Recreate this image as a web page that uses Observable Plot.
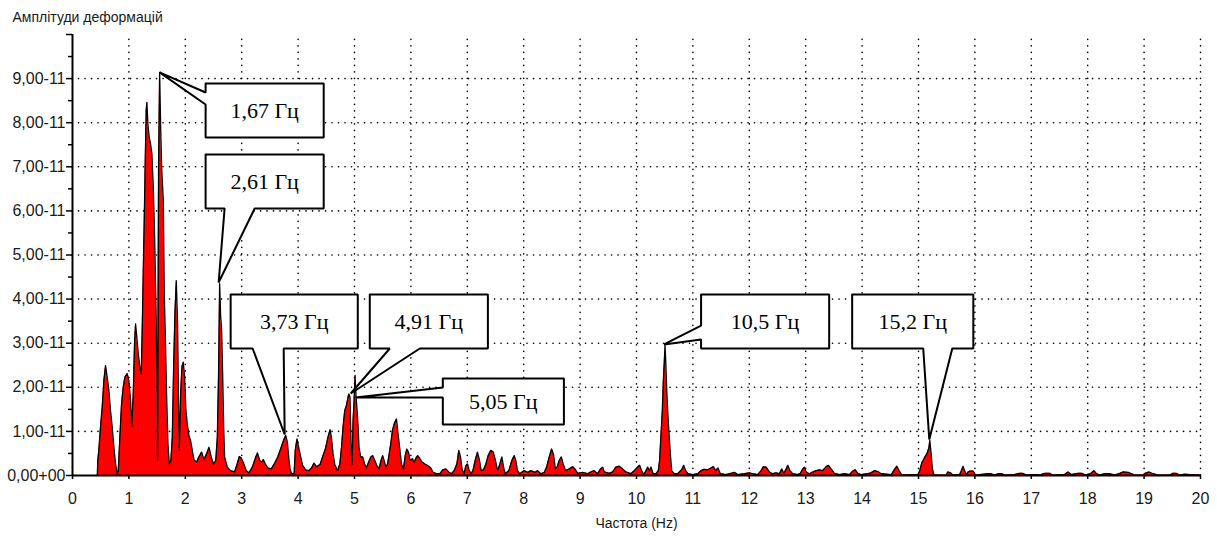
<!DOCTYPE html>
<html><head><meta charset="utf-8">
<script src="https://cdn.jsdelivr.net/npm/d3@7"></script>
<script src="https://cdn.jsdelivr.net/npm/@observablehq/plot@0.6"></script>
<style>
html,body{margin:0;padding:0;background:#fff}
#chart{width:1217px;height:539px;overflow:hidden}
</style>
</head><body><div id="chart"></div>
<script>
// ---- data ----
const yTitle = "Амплітуди деформацій";
const xTitle = "Частота (Hz)";
const xTicks = [0,1,2,3,4,5,6,7,8,9,10,11,12,13,14,15,16,17,18,19,20];
const yTicks = [0,1,2,3,4,5,6,7,8,9];
const yTickLabels = ["0,00+00","1,00-11","2,00-11","3,00-11","4,00-11","5,00-11","6,00-11","7,00-11","8,00-11","9,00-11"];
const yMax = 10;

// spectrum: frequency (Hz) and amplitude (x1e-11)
const freqHz = [
 0.44,0.449,0.467,0.497,0.527,0.556,0.586,0.615,0.645,0.674,0.704,0.734,0.763,0.793,
 0.811,0.840,0.870,0.899,0.929,0.970,1.000,1.030,1.050,1.077,1.100,1.118,1.140,1.166,1.195,1.219,
 1.236,1.254,1.272,1.290,1.307,1.319,1.337,1.360,1.384,1.408,1.432,1.455,1.479,1.497,1.508,
 1.526,1.545,1.562,1.580,1.610,1.627,1.645,1.668,1.692,1.716,1.745,1.769,1.792,1.816,1.840,
 1.863,1.881,1.893,1.917,1.940,1.964,1.988,2.011,2.035,2.064,2.094,2.124,2.153,2.200,2.240,
 2.290,2.330,2.378,2.420,2.460,2.500,2.540,2.568,2.590,2.609,2.626,2.644,2.662,2.680,2.697,
 2.745,2.804,2.875,2.920,2.958,2.990,3.040,3.080,3.130,3.190,3.250,3.280,3.320,3.354,3.384,
 3.420,3.466,3.525,3.585,3.640,3.690,3.740,3.780,3.810,3.833,3.857,3.886,3.930,3.950,3.980,
 4.010,4.046,4.080,4.135,4.190,4.240,4.280,4.330,4.390,4.437,4.484,4.530,4.567,4.590,4.620,
 4.650,4.700,4.740,4.770,4.797,4.827,4.857,4.880,4.900,4.920,4.940,4.957,4.975,4.993,5.010,
 5.028,5.046,5.064,5.080,5.110,5.146,5.180,5.210,5.250,5.290,5.324,5.360,5.395,5.436,5.470,
 5.500,5.525,5.555,5.585,5.613,5.643,5.673,5.709,5.744,5.773,5.800,5.833,5.868,5.900,5.927,
 5.957,5.986,6.028,6.057,6.093,6.120,6.152,6.188,6.247,6.306,6.353,6.390,6.460,6.520,6.566,
 6.620,6.672,6.720,6.767,6.815,6.850,6.880,6.909,6.944,6.974,7.004,7.030,7.063,7.098,7.140,
 7.180,7.217,7.246,7.288,7.330,7.370,7.418,7.460,7.500,7.537,7.578,7.613,7.643,7.672,7.737,
 7.790,7.832,7.860,7.890,7.927,8.010,8.070,8.128,8.200,8.246,8.305,8.364,8.406,8.453,8.495,
 8.530,8.560,8.595,8.630,8.666,8.700,8.743,8.808,8.867,8.914,8.956,9.045,9.134,9.190,9.250,
 9.310,9.357,9.400,9.430,9.520,9.577,9.636,9.695,9.755,9.813,9.900,9.960,10.020,10.057,10.090,
 10.130,10.170,10.200,10.227,10.257,10.293,10.346,10.387,10.410,10.435,10.458,10.476,10.494,10.506,10.518,
 10.536,10.553,10.577,10.600,10.624,10.670,10.740,10.800,10.838,10.873,10.910,10.997,11.086,11.145,11.200,
 11.264,11.320,11.363,11.405,11.446,11.487,11.588,11.677,11.736,11.795,11.913,12.000,12.060,12.150,12.210,
 12.250,12.300,12.357,12.417,12.476,12.534,12.577,12.610,12.648,12.683,12.720,12.770,12.860,12.907,12.950,
 12.980,13.008,13.067,13.127,13.186,13.244,13.300,13.363,13.404,13.450,13.510,13.600,13.690,13.776,13.836,
 13.877,13.925,13.980,14.100,14.160,14.220,14.280,14.340,14.520,14.576,14.617,14.660,14.706,14.990,15.020,
 15.060,15.107,15.155,15.185,15.200,15.226,15.244,15.274,15.490,15.520,15.570,15.610,15.730,15.760,15.790,
 15.820,15.850,15.880,15.910,15.970,16.010,16.230,16.290,16.350,16.410,16.480,16.530,16.700,16.790,16.850,
 16.910,17.090,17.150,17.240,17.330,17.370,17.590,17.650,17.710,17.830,17.900,17.950,18.050,18.110,18.150,
 18.210,18.300,18.390,18.480,18.570,18.630,18.720,18.780,18.830,18.980,19.020,19.090,19.160,19.250,19.460,
 19.510,19.570,19.630,19.720,19.810,19.990
];
const ampE11 = [
 0,0.35,0.57,1.10,1.55,2.15,2.49,2.23,1.93,1.47,1.10,0.64,0.27,0.04,
 0.10,0.87,1.63,2.00,2.23,2.31,2.15,1.70,1.10,1.85,2.99,3.44,3.14,2.76,2.46,2.31,
 3.29,4.57,5.78,7.14,8.28,8.46,7.97,7.67,7.52,7.29,6.54,5.48,3.89,2.38,0.34,
 6.99,9.14,7.97,6.99,6.24,4.12,3.21,1.85,0.72,0.27,0.34,0.87,2.38,3.67,4.42,
 3.44,1.55,0.57,1.85,2.46,2.57,2.23,1.47,1.17,0.91,0.79,0.57,0.36,0.30,0.42,
 0.53,0.36,0.49,0.64,0.42,0.26,0.34,0.87,2.31,4.35,3.63,3.29,2.31,1.10,0.42,
 0.19,0.11,0.08,0.26,0.43,0.40,0.26,0.11,0.06,0.19,0.42,0.51,0.34,0.30,0.36,
 0.26,0.17,0.15,0.28,0.42,0.60,0.79,0.91,0.75,0.42,0.15,0.04,0.05,0.57,0.83,
 0.64,0.42,0.23,0.13,0.11,0.17,0.28,0.20,0.25,0.43,0.60,0.87,1.04,0.87,0.49,
 0.25,0.11,0.26,0.64,1.10,1.47,1.59,1.74,1.85,1.78,0.64,0.26,1.25,1.70,2.27,
 1.78,1.47,1.10,0.64,0.42,0.42,0.26,0.17,0.30,0.42,0.45,0.34,0.23,0.15,0.34,
 0.45,0.34,0.19,0.25,0.47,0.72,1.02,1.19,1.28,0.94,0.64,0.26,0.15,0.45,0.60,
 0.53,0.34,0.38,0.30,0.40,0.45,0.40,0.32,0.26,0.22,0.17,0.08,0.04,0.05,0.13,
 0.15,0.08,0.04,0.11,0.26,0.57,0.42,0.13,0.04,0.22,0.26,0.13,0.04,0.10,0.34,
 0.53,0.34,0.11,0.13,0.26,0.45,0.57,0.53,0.34,0.11,0.26,0.42,0.19,0.04,0.11,
 0.34,0.45,0.34,0.11,0.04,0.11,0.07,0.11,0.07,0.11,0.04,0.07,0.19,0.42,0.60,
 0.47,0.15,0.20,0.34,0.42,0.26,0.11,0.15,0.20,0.14,0.05,0.07,0.04,0.08,0.11,
 0.04,0.14,0.19,0.08,0.05,0.08,0.19,0.21,0.15,0.08,0.04,0.11,0.19,0.23,0.11,
 0.02,0.11,0.19,0.10,0.19,0.05,0.04,0.11,0.34,0.94,1.47,2.15,2.61,2.95,2.61,
 1.93,1.47,0.94,0.49,0.11,0.04,0.05,0.13,0.23,0.11,0.04,0.02,0.04,0.11,0.14,
 0.13,0.17,0.20,0.11,0.17,0.04,0.02,0.05,0.07,0.02,0.04,0.06,0.04,0.02,0.11,
 0.20,0.19,0.08,0.04,0.06,0.04,0.15,0.05,0.13,0.23,0.11,0.04,0.02,0.05,0.15,
 0.19,0.08,0.04,0.08,0.11,0.13,0.11,0.20,0.23,0.15,0.05,0.02,0.04,0.02,0.10,
 0.13,0.05,0.02,0.04,0.06,0.11,0.09,0.04,0.02,0.14,0.21,0.10,0.01,0.02,0.10,
 0.29,0.40,0.51,0.63,0.80,0.48,0.17,0.01,0.01,0.08,0.06,0.01,0.02,0.11,0.21,
 0.10,0.02,0.08,0.10,0.10,0.01,0.04,0.04,0.01,0.04,0.04,0.01,0.02,0.05,0.05,
 0.01,0.02,0.01,0.05,0.05,0.01,0.02,0.08,0.02,0.05,0.05,0.01,0.04,0.11,0.05,
 0.01,0.04,0.04,0.01,0.05,0.08,0.07,0.04,0.01,0.01,0.05,0.08,0.04,0.01,0.01,
 0.05,0.05,0.01,0.03,0.02,0.01
];

// annotated peaks: label, peak frequency (Hz), peak amplitude (x1e-11)
const peakLabels = ["1,67 Гц","2,61 Гц","3,73 Гц","4,91 Гц","5,05 Гц","10,5 Гц","15,2 Гц"];
const peakFreq   = [1.544, 2.591, 3.762, 4.933, 5.022, 10.488, 15.191];
const peakAmp    = [9.14, 4.376, 0.93, 1.859, 1.769, 2.971, 0.816];

// callout box layout (in axis units): x0,x1 (Hz), y0,y1 (x1e-11), pointer side and attach points
const calloutLayout = [
 {x0:2.36,  x1:4.454,  y0:7.664, y1:8.889, side:"left",   p1:8.685, p2:8.413},
 {x0:2.36,  x1:4.454,  y0:6.054, y1:7.279, side:"bottom", p1:2.697, p2:3.230},
 {x0:2.804, x1:5.058,  y0:2.88,  y1:4.104, side:"bottom", p1:3.194, p2:3.744},
 {x0:5.271, x1:7.365,  y0:2.88,  y1:4.104, side:"bottom", p1:5.626, p2:6.158},
 {x0:6.566, x1:8.713,  y0:1.156, y1:2.2,   side:"left",   p1:1.995, p2:1.769},
 {x0:11.145,x1:13.416, y0:2.88,  y1:4.104, side:"left",   p1:3.401, p2:3.084},
 {x0:13.824,x1:15.972, y0:2.88,  y1:4.104, side:"bottom", p1:15.084,p2:15.599}
];

// ---- build tables ----
const spectrum = freqHz.map((f, i) => ({f, a: ampE11[i]}));
const callouts = peakLabels.map((label, i) => ({label, tf: peakFreq[i], ta: peakAmp[i], ...calloutLayout[i]}));
const poly = [];
callouts.forEach((c, i) => {
  const pts = c.side === "left"
    ? [[c.x0,c.y1],[c.x1,c.y1],[c.x1,c.y0],[c.x0,c.y0],[c.x0,c.p2],[c.tf,c.ta],[c.x0,c.p1],[c.x0,c.y1]]
    : [[c.x0,c.y1],[c.x1,c.y1],[c.x1,c.y0],[c.p2,c.y0],[c.tf,c.ta],[c.p1,c.y0],[c.x0,c.y0],[c.x0,c.y1]];
  pts.forEach(([x, y]) => poly.push({id: i, x, y}));
});
const yMinor = d3.range(0.5, yMax, 1);
const yMajor = d3.range(0, yMax + 1, 1);
const gridX = xTicks.filter(d => d > 0);
const gridY = yTicks.filter(d => d > 0);

const chart = Plot.plot({
  width: 1217, height: 539,
  marginLeft: 72, marginRight: 17, marginTop: 34, marginBottom: 64,
  style: {fontFamily: "'Liberation Sans', Arial, sans-serif", fontSize: "16px", background: "#fff", color: "#000"},
  x: {domain: [0, 20], label: null},
  y: {domain: [0, yMax], label: null},
  marks: [
    Plot.ruleX(gridX, {y1: 0, y2: yMax, stroke: "#000", strokeWidth: 1.6, strokeLinecap: "round", strokeDasharray: "0.1,6.4"}),
    Plot.ruleY(gridY, {x1: 0, x2: 20, stroke: "#000", strokeWidth: 1.6, strokeLinecap: "round", strokeDasharray: "0.1,6.4"}),
    Plot.areaY(spectrum, {x: "f", y: "a", fill: "#ff0000"}),
    Plot.lineY(spectrum, {x: "f", y: "a", stroke: "#000", strokeWidth: 1.3}),
    Plot.ruleX([0], {y1: 0, y2: yMax, stroke: "#000", strokeWidth: 2}),
    Plot.ruleY([0], {x1: 0, x2: 20, stroke: "#000", strokeWidth: 2}),
    Plot.axisY(yMajor, {tickSize: 6, tickPadding: 1, strokeWidth: 1.5, fill: "#1a1a1a", label: null,
      tickFormat: d => (yTickLabels[d] ?? ""), fontSize: 16}),
    Plot.axisY(yMinor, {tickSize: 4, strokeWidth: 1.5, tickFormat: () => "", label: null}),
    Plot.axisX(xTicks, {tickSize: 4, tickPadding: 13, strokeWidth: 1.5, fill: "#1a1a1a", label: null,
      tickFormat: d => String(d), fontSize: 16}),
    Plot.line(poly, {x: "x", y: "y", z: "id", fill: "white", stroke: "#000", strokeWidth: 2, strokeLinejoin: "miter"}),
    Plot.text(callouts, {x: d => (d.x0 + d.x1) / 2, y: d => (d.y0 + d.y1) / 2, text: "label",
      fontFamily: "'Liberation Serif', 'Times New Roman', serif", fontSize: 22, fill: "#000"}),
    Plot.text([yTitle], {frameAnchor: "top-left", dx: -60, dy: -17, textAnchor: "start", lineAnchor: "middle",
      fontSize: 14, fill: "#1a1a1a"}),
    Plot.text([xTitle], {frameAnchor: "bottom", dy: 48, lineAnchor: "middle", fontSize: 14, fill: "#1a1a1a"})
  ]
});
document.getElementById("chart").appendChild(chart);
</script></body></html>
